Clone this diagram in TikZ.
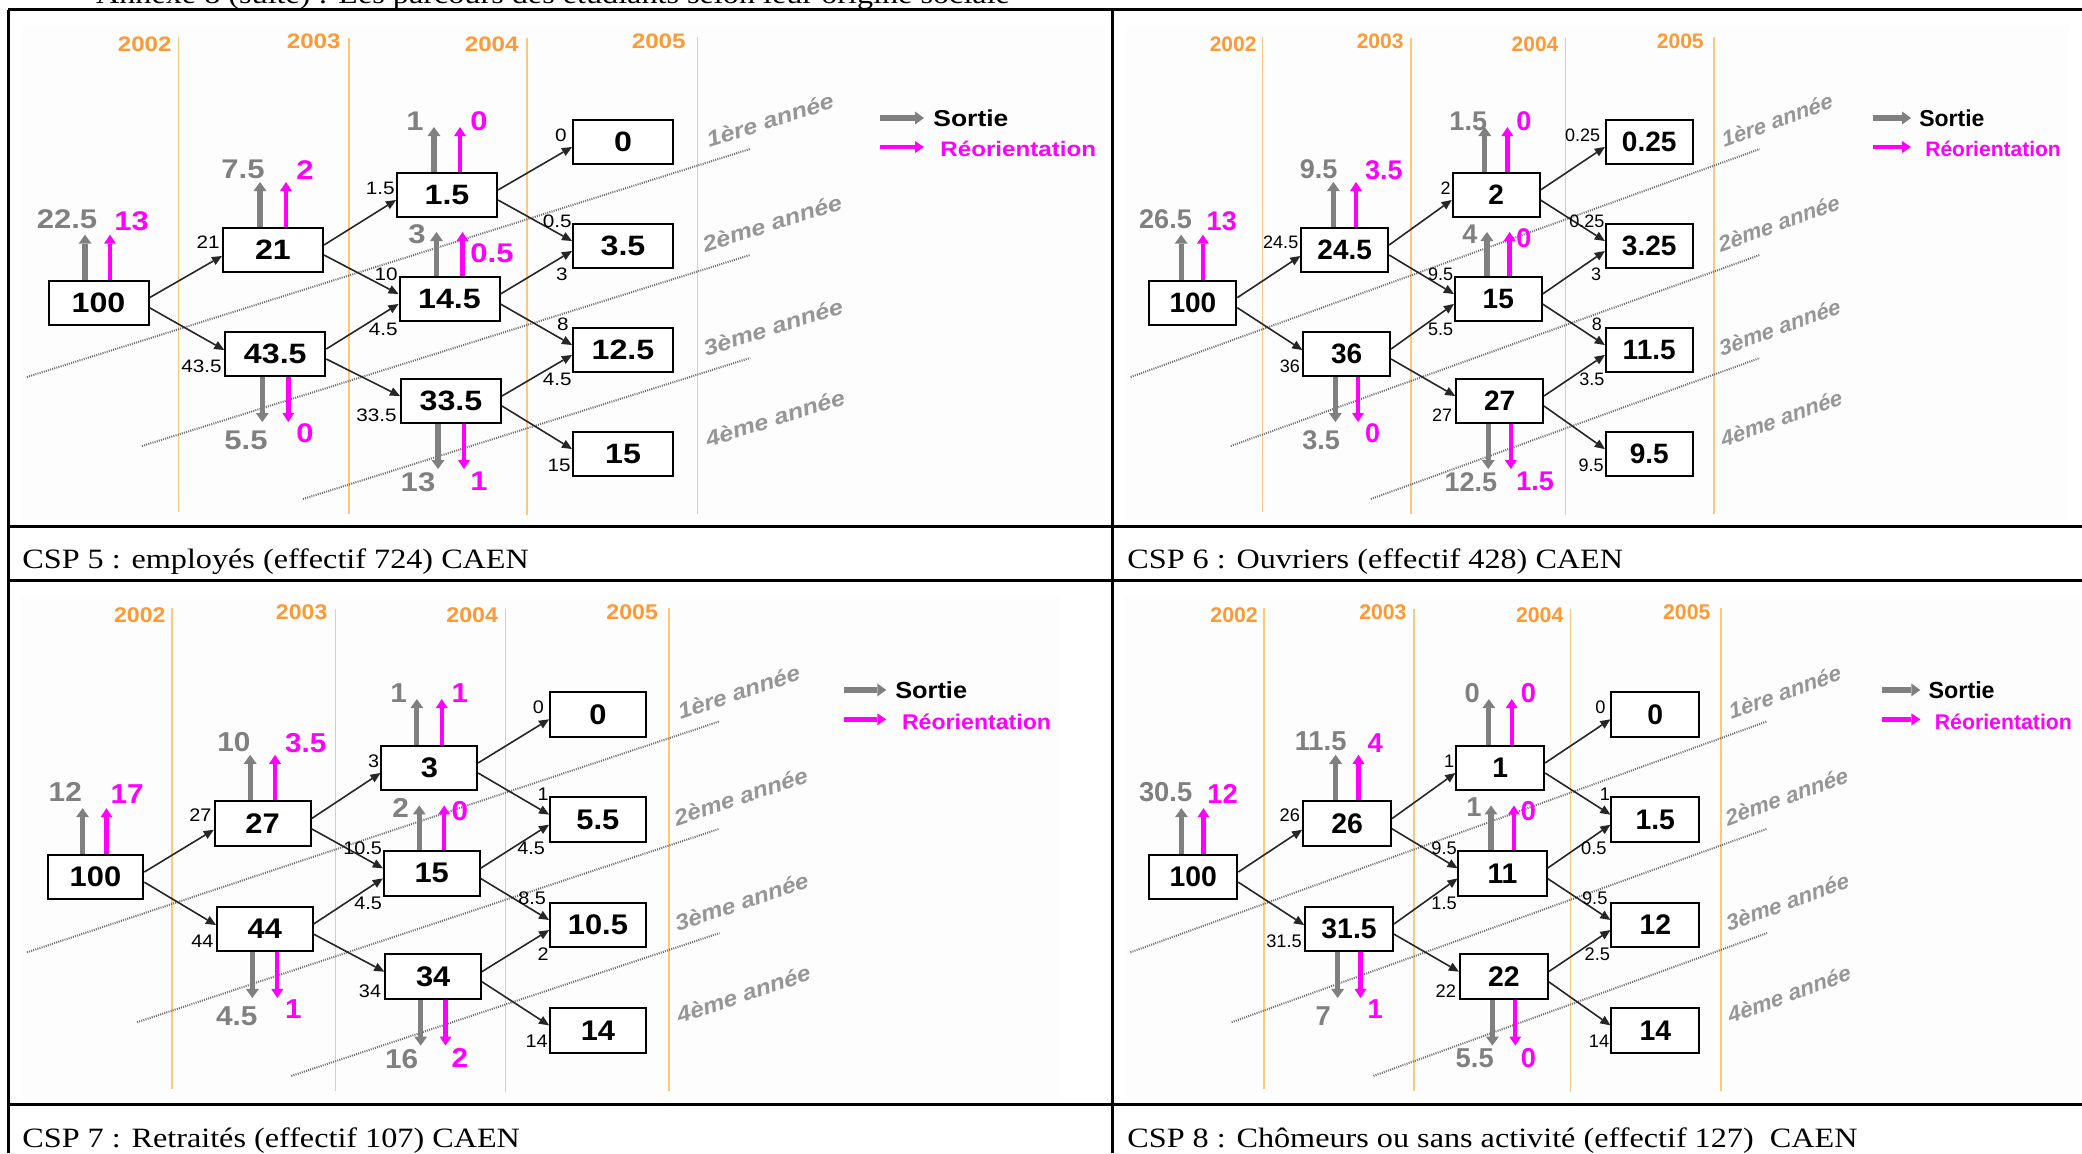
\documentclass[tikz,border=0pt]{standalone}
\usepackage{fontspec}
\setmainfont[FakeStretch=1.15]{Liberation Serif}
\newfontfamily\Qsans[FakeStretch=1.15]{Liberation Sans}
\usetikzlibrary{arrows.meta}
\definecolor{sgray}{RGB}{128,128,128}
\definecolor{smag}{RGB}{255,0,255}
\definecolor{yorange}{RGB}{255,153,51}
\definecolor{lorange}{RGB}{255,200,120}
\definecolor{agray}{RGB}{150,150,150}
\definecolor{dgray}{RGB}{110,110,110}
\definecolor{bgc}{RGB}{253,253,253}
\tikzset{
 box/.style={draw=black, line width=1pt, fill=white, minimum width=50pt, minimum height=22pt, inner sep=0pt, font=\Qsans\bfseries\fontsize{14}{14}\selectfont},
 flow/.style={draw=black!85, line width=0.8pt, -{Triangle[length=5pt,width=4.5pt,line width=0pt]}},
 sortie/.style={draw=sgray, line width=2.6pt, -{Triangle[length=4.5pt,width=6.5pt,line width=0pt]}},
 reor/.style={draw=smag, line width=2.2pt, -{Triangle[length=4.5pt,width=6pt,line width=0pt]}},
 oline/.style={draw=lorange, line width=0.8pt},
 dotl/.style={draw=dgray, line width=1pt, dash pattern=on 0.5pt off 0.6pt},
 year/.style={font=\Qsans\bfseries\fontsize{10.5}{10.5}\selectfont, text=yorange, inner sep=0pt},
 annee/.style={font=\Qsans\bfseries\itshape\fontsize{11}{11}\selectfont, text=agray, inner sep=0pt, rotate=17.5},
 glbl/.style={font=\Qsans\bfseries\fontsize{13.5}{13.5}\selectfont, text=sgray, inner sep=0pt},
 mlbl/.style={font=\Qsans\bfseries\fontsize{13.5}{13.5}\selectfont, text=smag, inner sep=0pt, anchor=west},
 flbl/.style={font=\Qsans\fontsize{9}{9}\selectfont, inner sep=0pt, anchor=east},
 legs/.style={font=\Qsans\bfseries\fontsize{11.5}{11.5}\selectfont, text=black, inner sep=0pt, anchor=west},
 legr/.style={font=\Qsans\bfseries\fontsize{10.5}{10.5}\selectfont, text=smag, inner sep=0pt, anchor=west},
 tline/.style={draw=black, line width=1.5pt},
 captxt/.style={font=\fontsize{14}{14}\selectfont, inner sep=0pt, anchor=base west}
}
\newcommand{\Qpanel}[1]{%
 \fill[bgc] (21,25) rectangle (1105,520);
 \draw[oline] (178.4,37) -- (178.4,512);
 \draw[oline] (349,38) -- (349,514);
 \draw[oline] (526.7,38) -- (526.7,515);
 \draw[oline] (697.3,37) -- (697.3,514);
 \node[year, anchor=east] (#1y1) at (172,44) {2002};
 \node[year, anchor=east] (#1y2) at (341,41) {2003};
 \node[year, anchor=east] (#1y3) at (519,44) {2004};
 \node[year, anchor=east] (#1y4) at (686,41) {2005};
 \draw[dotl] (27,377) -- (750,149);
 \draw[dotl] (142,446) -- (750,255);
 \draw[dotl] (303,499) -- (750,358);
 \node[annee] (#1n1) at (770,120) {1ère année};
 \node[annee] (#1n2) at (772,223) {2ème année};
 \node[annee] (#1n3) at (773,327) {3ème année};
 \node[annee] (#1n4) at (775,418) {4ème année};
 \node[box] (#1A) at (98.5,302.7) {\QvA};
 \node[box] (#1B1) at (273,250) {\QvBa};
 \node[box] (#1B2) at (275.3,354) {\QvBb};
 \node[box] (#1C1) at (447,195) {\QvCa};
 \node[box] (#1C2) at (449.5,299) {\QvCb};
 \node[box] (#1C3) at (451,401) {\QvCc};
 \node[box] (#1D1) at (623,142) {\QvDa};
 \node[box] (#1D2) at (623,246) {\QvDb};
 \node[box] (#1D3) at (623,350) {\QvDc};
 \node[box] (#1D4) at (623,454) {\QvDd};
 \draw[flow] ([yshift=2.5pt]#1A.east) -- ([yshift=-3pt]#1B1.west);
 \draw[flow] ([yshift=-2.5pt]#1A.east) -- ([yshift=2pt]#1B2.west);
 \draw[flow] ([yshift=2.5pt]#1B1.east) -- ([yshift=-2.5pt]#1C1.west);
 \draw[flow] ([yshift=-2.5pt]#1B1.east) -- ([yshift=2.5pt]#1C2.west);
 \draw[flow] ([yshift=2.5pt]#1B2.east) -- ([yshift=-2.5pt]#1C2.west);
 \draw[flow] ([yshift=-2.5pt]#1B2.east) -- ([yshift=2.5pt]#1C3.west);
 \draw[flow] ([yshift=2.5pt]#1C1.east) -- ([yshift=-2.5pt]#1D1.west);
 \draw[flow] ([yshift=-2.5pt]#1C1.east) -- ([yshift=2.5pt]#1D2.west);
 \draw[flow] ([yshift=2.5pt]#1C2.east) -- ([yshift=-2.5pt]#1D2.west);
 \draw[flow] ([yshift=-2.5pt]#1C2.east) -- ([yshift=2.5pt]#1D3.west);
 \draw[flow] ([yshift=2.5pt]#1C3.east) -- ([yshift=-2.5pt]#1D3.west);
 \draw[flow] ([yshift=-2.5pt]#1C3.east) -- ([yshift=2.5pt]#1D4.west);
 \node[flbl] (#1lBa) at (220,242) {\QlBa};
 \node[flbl] (#1lBb) at (222,366) {\QlBb};
 \node[flbl] (#1lCa) at (395,188) {\QlCa};
 \node[flbl] (#1lCba) at (398,274) {\QlCba};
 \node[flbl] (#1lCbb) at (398,329) {\QlCbb};
 \node[flbl] (#1lCc) at (397,415) {\QlCc};
 \node[flbl] (#1lDa) at (567,135) {\QlDa};
 \node[flbl] (#1lDba) at (572,221) {\QlDba};
 \node[flbl] (#1lDbb) at (568,274.5) {\QlDbb};
 \node[flbl] (#1lDca) at (569,324) {\QlDca};
 \node[flbl] (#1lDcb) at (572,379) {\QlDcb};
 \node[flbl] (#1lDd) at (571,465) {\QlDd};
 \draw[sortie] ([xshift=-6.75pt]#1A.north) -- ++(0,-45);
 \draw[reor] ([xshift=5.75pt]#1A.north) -- ++(0,-45);
 \draw[sortie] ([xshift=-6.5pt]#1B1.north) -- ++(0,-45);
 \draw[reor] ([xshift=6.5pt]#1B1.north) -- ++(0,-45);
 \draw[sortie] ([xshift=-6.5pt]#1C1.north) -- ++(0,-45);
 \draw[reor] ([xshift=6.5pt]#1C1.north) -- ++(0,-45);
 \draw[sortie] ([xshift=-6.5pt]#1C2.north) -- ++(0,-44);
 \draw[reor] ([xshift=6.5pt]#1C2.north) -- ++(0,-44);
 \draw[sortie] ([xshift=-6.5pt]#1B2.south) -- ++(0,45);
 \draw[reor] ([xshift=6.5pt]#1B2.south) -- ++(0,45);
 \draw[sortie] ([xshift=-6.5pt]#1C3.south) -- ++(0,45);
 \draw[reor] ([xshift=6.5pt]#1C3.south) -- ++(0,45);
 \node[glbl] (#1gA) at (67,219) {\QgA};
 \node[mlbl] (#1mA) at (114,221) {\QmA};
 \node[glbl] (#1gB1) at (243,169) {\QgBa};
 \node[mlbl] (#1mB1) at (296,170) {\QmBa};
 \node[glbl] (#1gC1) at (415,121) {\QgCa};
 \node[mlbl] (#1mC1) at (470,121) {\QmCa};
 \node[glbl] (#1gC2) at (417,234) {\QgCb};
 \node[mlbl] (#1mC2) at (470,\QmCby) {\QmCb};
 \node[glbl] (#1gB2) at (246,440) {\QgBb};
 \node[mlbl] (#1mB2) at (296,433) {\QmBb};
 \node[glbl] (#1gC3) at (418,482) {\QgCc};
 \node[mlbl] (#1mC3) at (470,481) {\QmCc};
 \coordinate (#1ls) at (880,118); \coordinate (#1le) at (924,118);
 \draw[sortie] (#1ls) -- (#1le);
 \node[legs] (#1lS) at (933,118) {Sortie};
 \coordinate (#1lrs) at (880,147); \coordinate (#1lre) at (924,147);
 \draw[reor] (#1lrs) -- (#1lre);
 \node[legr] (#1lR) at (940,149) {Réorientation};
}
\begin{document}
\begin{tikzpicture}[x=0.5pt,y=-0.5pt]
\useasboundingbox (0,0) rectangle (2082,1153);
\clip (0,0) rectangle (2082,1153);
\fill[white] (0,0) rectangle (2082,1153);
\node[font=\fontsize{14}{14}\selectfont, inner sep=0pt, anchor=base] (title) at (553,3) {Annexe 8 (suite) : Les parcours des étudiants selon leur origine sociale};
% panel 1
\def\QvA{100}\def\QgA{22.5}\def\QmA{13}
\def\QvBa{21}\def\QlBa{21}\def\QgBa{7.5}\def\QmBa{2}
\def\QvBb{43.5}\def\QlBb{43.5}\def\QgBb{5.5}\def\QmBb{0}
\def\QvCa{1.5}\def\QlCa{1.5}\def\QgCa{1}\def\QmCa{0}
\def\QvCb{14.5}\def\QlCba{10}\def\QlCbb{4.5}\def\QgCb{3}\def\QmCb{0.5}\def\QmCby{253}
\def\QvCc{33.5}\def\QlCc{33.5}\def\QgCc{13}\def\QmCc{1}
\def\QvDa{0}\def\QlDa{0}
\def\QvDb{3.5}\def\QlDba{0.5}\def\QlDbb{3}
\def\QvDc{12.5}\def\QlDca{8}\def\QlDcb{4.5}
\def\QvDd{15}\def\QlDd{15}
\begin{scope}
\Qpanel{pa}
\end{scope}
% panel 2
\def\QvA{100}\def\QgA{26.5}\def\QmA{13}
\def\QvBa{24.5}\def\QlBa{24.5}\def\QgBa{9.5}\def\QmBa{3.5}
\def\QvBb{36}\def\QlBb{36}\def\QgBb{3.5}\def\QmBb{0}
\def\QvCa{2}\def\QlCa{2}\def\QgCa{1.5}\def\QmCa{0}
\def\QvCb{15}\def\QlCba{9.5}\def\QlCbb{5.5}\def\QgCb{4}\def\QmCb{0}\def\QmCby{238}
\def\QvCc{27}\def\QlCc{27}\def\QgCc{12.5}\def\QmCc{1.5}
\def\QvDa{0.25}\def\QlDa{0.25}
\def\QvDb{3.25}\def\QlDba{0.25}\def\QlDbb{3}
\def\QvDc{11.5}\def\QlDca{8}\def\QlDcb{3.5}
\def\QvDd{9.5}\def\QlDd{9.5}
\begin{scope}[shift={(1107.2,0)}, xscale=0.87, transform shape]
\Qpanel{pb}
\end{scope}
% panel 3
\def\QvA{100}\def\QgA{12}\def\QmA{17}
\def\QvBa{27}\def\QlBa{27}\def\QgBa{10}\def\QmBa{3.5}
\def\QvBb{44}\def\QlBb{44}\def\QgBb{4.5}\def\QmBb{1}
\def\QvCa{3}\def\QlCa{3}\def\QgCa{1}\def\QmCa{1}
\def\QvCb{15}\def\QlCba{10.5}\def\QlCbb{4.5}\def\QgCb{2}\def\QmCb{0}\def\QmCby{238}
\def\QvCc{34}\def\QlCc{34}\def\QgCc{16}\def\QmCc{2}
\def\QvDa{0}\def\QlDa{0}
\def\QvDb{5.5}\def\QlDba{1}\def\QlDbb{4.5}
\def\QvDc{10.5}\def\QlDca{8.5}\def\QlDcb{2}
\def\QvDd{14}\def\QlDd{14}
\begin{scope}[shift={(1.1,570.4)}, xscale=0.958, yscale=1.013, transform shape]
\Qpanel{pc}
\end{scope}
% panel 4
\def\QvA{100}\def\QgA{30.5}\def\QmA{12}
\def\QvBa{26}\def\QlBa{26}\def\QgBa{11.5}\def\QmBa{4}
\def\QvBb{31.5}\def\QlBb{31.5}\def\QgBb{7}\def\QmBb{1}
\def\QvCa{1}\def\QlCa{1}\def\QgCa{0}\def\QmCa{0}
\def\QvCb{11}\def\QlCba{9.5}\def\QlCbb{1.5}\def\QgCb{1}\def\QmCb{0}\def\QmCby{238}
\def\QvCc{22}\def\QlCc{22}\def\QgCc{5.5}\def\QmCc{0}
\def\QvDa{0}\def\QlDa{0}
\def\QvDb{1.5}\def\QlDba{1}\def\QlDbb{0.5}
\def\QvDc{12}\def\QlDca{9.5}\def\QlDcb{2.5}
\def\QvDd{14}\def\QlDd{14}
\begin{scope}[shift={(1106.6,570.4)}, xscale=0.8807, yscale=1.013, transform shape]
\Qpanel{pd}
\end{scope}
% table
\draw[tline] (8,9.5) -- (2082,9.5);
\draw[tline] (8,526) -- (2082,526);
\draw[tline] (8,580) -- (2082,580);
\draw[tline] (8,1104) -- (2082,1104);
\draw[tline] (8,9.5) -- (8,1153);
\draw[tline] (1112,9.5) -- (1112,1153);
\node[captxt] (c1) at (22,568) {CSP 5 : employés (effectif 724) CAEN};
\node[captxt] (c2) at (1127,568) {CSP 6 : Ouvriers (effectif 428) CAEN};
\node[captxt] (c3) at (22,1147) {CSP 7 : Retraités (effectif 107) CAEN};
\node[captxt] (c4) at (1127,1147) {CSP 8 : Chômeurs ou sans activité (effectif 127)~ CAEN};
\end{tikzpicture}
\end{document}
